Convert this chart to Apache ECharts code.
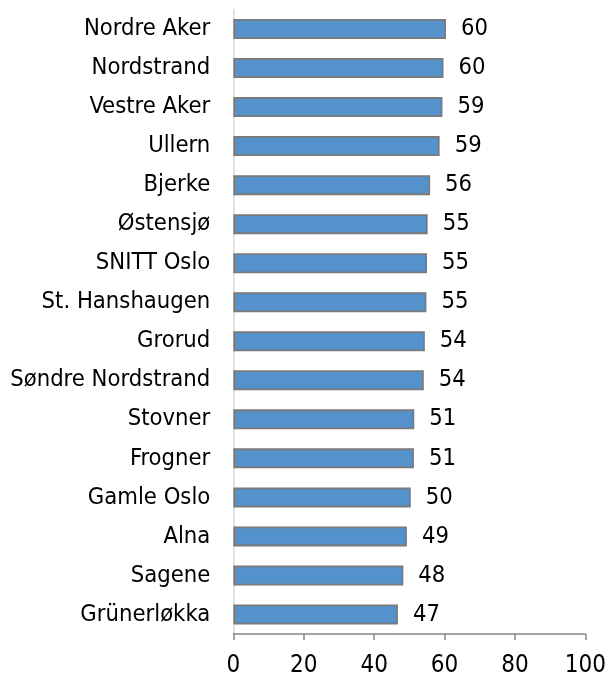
<!DOCTYPE html>
<html>
<head>
<meta charset="utf-8">
<script src="https://cdn.jsdelivr.net/npm/echarts@6/dist/echarts.min.js"></script>
<style>
html,body{margin:0;padding:0;background:#fff;}
#c{width:609px;height:678px;}
</style>
</head>
<body>
<div id="c"></div>
<script>
const categories = ["Nordre Aker","Nordstrand","Vestre Aker","Ullern","Bjerke","Østensjø","SNITT Oslo","St. Hanshaugen","Grorud","Søndre Nordstrand","Stovner","Frogner","Gamle Oslo","Alna","Sagene","Grünerløkka"];
const values = [60.4,59.7,59.4,58.6,55.9,55.2,55.0,54.85,54.4,54.1,51.4,51.3,50.4,49.3,48.3,46.75];
const xTicks = [0,20,40,60,80,100];

const FONT = '"DejaVu Sans Condensed","DejaVu Sans",sans-serif';
const chart = echarts.init(document.getElementById('c'), null, {renderer:'canvas'});
chart.setOption({
  animation:false,
  backgroundColor:'#ffffff',
  grid:{left:233.3,right:21.3,top:9.5,bottom:42.3,containLabel:false},
  xAxis:{
    type:'value',min:xTicks[0],max:xTicks[xTicks.length-1],interval:20,
    axisLine:{show:true,lineStyle:{color:'#868686',width:1.5}},
    axisTick:{show:true,length:6,lineStyle:{color:'#868686',width:1.5}},
    splitLine:{show:false},
    axisLabel:{fontFamily:FONT,fontSize:24,color:'#000',margin:20}
  },
  yAxis:{
    type:'category',data:categories.slice().reverse(),
    axisLine:{show:true,lineStyle:{color:'#d9d9d9',width:1.5}},
    axisTick:{show:false},
    axisLabel:{fontFamily:FONT,fontSize:23.6,color:'#000',margin:23}
  },
  series:[{
    type:'bar',
    data:values.slice().reverse(),
    barWidth:20,
    itemStyle:{color:'#5591cb',borderColor:'#7a7a7a',borderWidth:1.8},
    label:{show:true,position:'right',distance:15,fontFamily:FONT,fontSize:23.6,color:'#000',
      formatter:p=>Math.round(p.value)}
  }]
});
</script>
</body>
</html>
